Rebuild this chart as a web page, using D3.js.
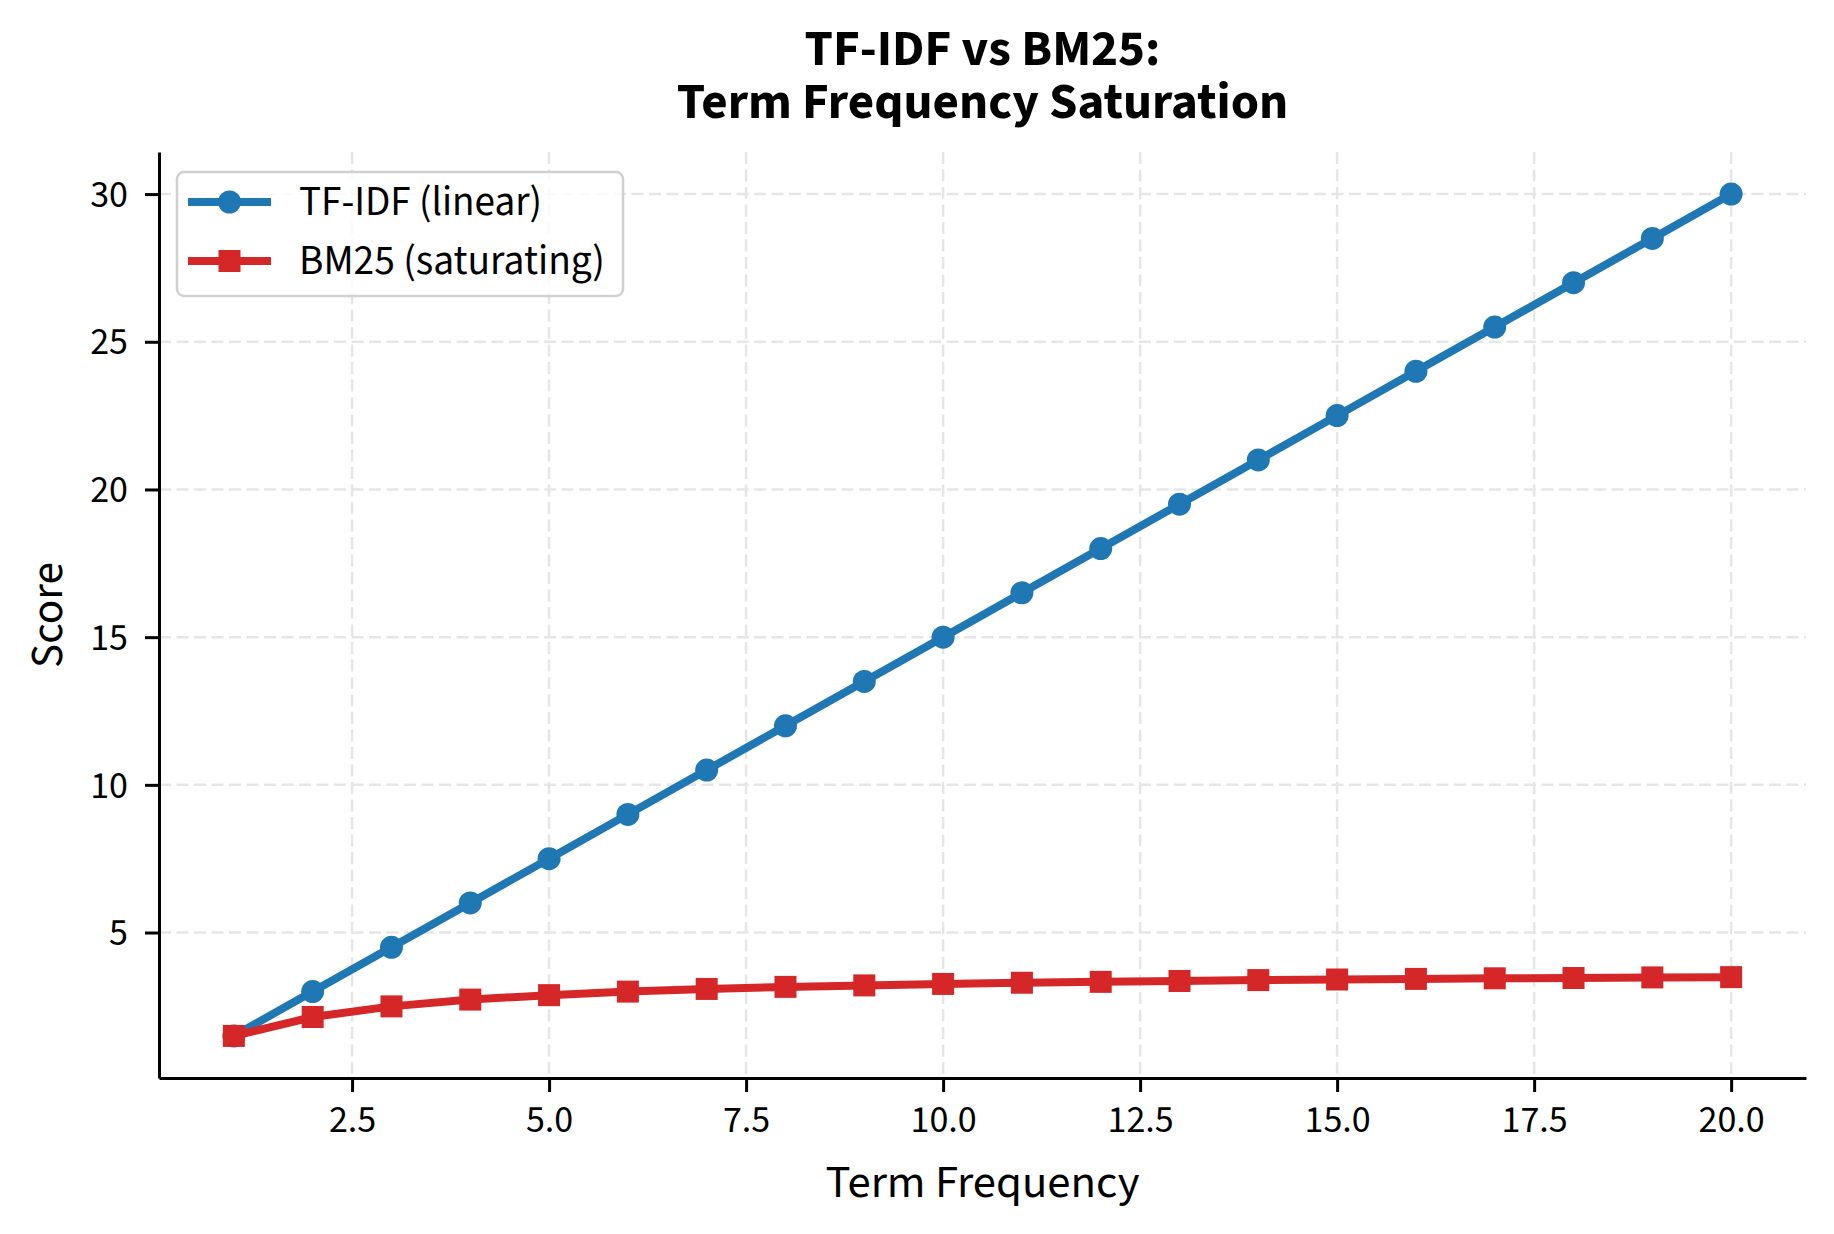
<!DOCTYPE html>
<html>
<head>
<meta charset="utf-8">
<script src="https://cdn.jsdelivr.net/npm/d3@7"></script>
<style>
  html, body { margin: 0; padding: 0; background: #ffffff; }
  svg { display: block; }
  text { font-family: "Source Sans 3", "Source Sans Pro", Lato, "Noto Sans", sans-serif; fill: #000; }
</style>
</head>
<body>
<svg id="chart" width="1834" height="1234"></svg>
<script>
// ---- data ----
const termFrequency = [1, 2, 3, 4, 5, 6, 7, 8, 9, 10, 11, 12, 13, 14, 15, 16, 17, 18, 19, 20];
const tfidfScores = [1.5, 3.0, 4.5, 6.0, 7.5, 9.0, 10.5, 12.0, 13.5, 15.0, 16.5, 18.0, 19.5, 21.0, 22.5, 24.0, 25.5, 27.0, 28.5, 30.0];
const bm25Scores = [1.5, 2.14, 2.5, 2.73, 2.88, 3.0, 3.09, 3.16, 3.21, 3.26, 3.3, 3.33, 3.36, 3.39, 3.41, 3.43, 3.45, 3.46, 3.48, 3.49];
const seriesNames = ["TF-IDF (linear)", "BM25 (saturating)"];
const xTickValues = [2.5, 5.0, 7.5, 10.0, 12.5, 15.0, 17.5, 20.0];
const yTickValues = [5, 10, 15, 20, 25, 30];
const titleLines = ["TF-IDF vs BM25:", "Term Frequency Saturation"];
const xLabel = "Term Frequency";
const yLabel = "Score";

// ---- layout ----
const plot = { left: 159, right: 1806, top: 152, bottom: 1078 };
const blue = "#1f77b4", red = "#d62728";

const svg = d3.select("#chart");

const x = d3.scaleLinear().domain([0.05, 20.95]).range([plot.left, plot.right]);
const y = d3.scaleLinear().domain([0.075, 31.425]).range([plot.bottom, plot.top]);

function fitWidth(sel, target) {
  const w = sel.node().getComputedTextLength();
  const fs = parseFloat(sel.style("font-size"));
  sel.style("font-size", (fs * target / w) + "px");
  return fs * target / w;
}

// grid
const grid = svg.append("g").attr("class", "grid");
grid.selectAll("line.gx").data(xTickValues).enter().append("line")
  .attr("x1", d => x(d)).attr("x2", d => x(d))
  .attr("y1", plot.top).attr("y2", plot.bottom)
  .attr("stroke", "#e6e6e6").attr("stroke-width", 2.5).attr("stroke-dasharray", "12,5.5");
grid.selectAll("line.gy").data(yTickValues).enter().append("line")
  .attr("x1", plot.left).attr("x2", plot.right)
  .attr("y1", d => y(d)).attr("y2", d => y(d))
  .attr("stroke", "#e6e6e6").attr("stroke-width", 2.5).attr("stroke-dasharray", "12,5.5");

// axes
const xAxis = d3.axisBottom(x).tickValues(xTickValues).tickFormat(d3.format(".1f"))
  .tickSize(14).tickSizeOuter(0).tickPadding(13);
const yAxis = d3.axisLeft(y).tickValues(yTickValues).tickFormat(d3.format("d"))
  .tickSize(14).tickSizeOuter(0).tickPadding(17);

const gx = svg.append("g").attr("transform", `translate(0,${plot.bottom})`).call(xAxis);
const gy = svg.append("g").attr("transform", `translate(${plot.left},0)`).call(yAxis);
[gx, gy].forEach(g => {
  g.select(".domain").attr("stroke", "#000").attr("stroke-width", 3);
  g.selectAll(".tick line").attr("stroke", "#000").attr("stroke-width", 3);
  g.selectAll(".tick text").attr("font-family", null).style("font-size", "38px").attr("fill", "#000");
});
gx.selectAll(".tick text").attr("dy", "0.71em");

// lines
const line = d3.line().x((d, i) => x(termFrequency[i])).y(d => y(d));
svg.append("path").datum(tfidfScores).attr("d", line)
  .attr("fill", "none").attr("stroke", blue).attr("stroke-width", 8).attr("stroke-linejoin", "round");
svg.append("g").selectAll("circle").data(tfidfScores).enter().append("circle")
  .attr("cx", (d, i) => x(termFrequency[i])).attr("cy", d => y(d)).attr("r", 11.5).attr("fill", blue);

svg.append("path").datum(bm25Scores).attr("d", line)
  .attr("fill", "none").attr("stroke", red).attr("stroke-width", 8).attr("stroke-linejoin", "round");
svg.append("g").selectAll("rect").data(bm25Scores).enter().append("rect")
  .attr("x", (d, i) => x(termFrequency[i]) - 11).attr("y", d => y(d) - 11)
  .attr("width", 22).attr("height", 22).attr("fill", red);

// title (single text element, two lines)
const cx = (plot.left + plot.right) / 2;
const title = svg.append("text").attr("text-anchor", "middle")
  .style("font-weight", "bold").style("font-size", "44px");
title.append("tspan").attr("x", cx).attr("y", 65).text(titleLines[0]);
const t2 = title.append("tspan").attr("x", cx).attr("y", 118).text(titleLines[1]);
{
  const w = t2.node().getComputedTextLength();
  title.style("font-size", (44 * 612 / w) + "px");
}

// axis labels
const xl = svg.append("text").attr("x", cx).attr("y", 1197)
  .attr("text-anchor", "middle").style("font-size", "40px").text(xLabel);
fitWidth(xl, 314);
const yl = svg.append("text").attr("transform", `translate(62,${(plot.top + plot.bottom) / 2}) rotate(-90)`)
  .attr("text-anchor", "middle").style("font-size", "40px").text(yLabel);
fitWidth(yl, 106);

// legend
const legend = svg.append("g");
legend.append("rect").attr("x", 177).attr("y", 172).attr("width", 446).attr("height", 124)
  .attr("rx", 7).attr("ry", 7).attr("fill", "#fff").attr("fill-opacity", 0.8)
  .attr("stroke", "#d0d0d0").attr("stroke-width", 2.5);
const rows = [
  { name: seriesNames[0], color: blue, shape: "circle", cy: 202, base: 215, w: 243 },
  { name: seriesNames[1], color: red, shape: "square", cy: 261, base: 274, w: 306 }
];
rows.forEach(r => {
  legend.append("line").attr("x1", 188).attr("x2", 271).attr("y1", r.cy).attr("y2", r.cy)
    .attr("stroke", r.color).attr("stroke-width", 8);
  if (r.shape === "circle") {
    legend.append("circle").attr("cx", 229.5).attr("cy", r.cy).attr("r", 11.5).attr("fill", r.color);
  } else {
    legend.append("rect").attr("x", 229.5 - 11).attr("y", r.cy - 11).attr("width", 22).attr("height", 22).attr("fill", r.color);
  }
  const t = legend.append("text").attr("x", 299).attr("y", r.base).style("font-size", "36px").text(r.name);
  fitWidth(t, r.w);
});
</script>
</body>
</html>
